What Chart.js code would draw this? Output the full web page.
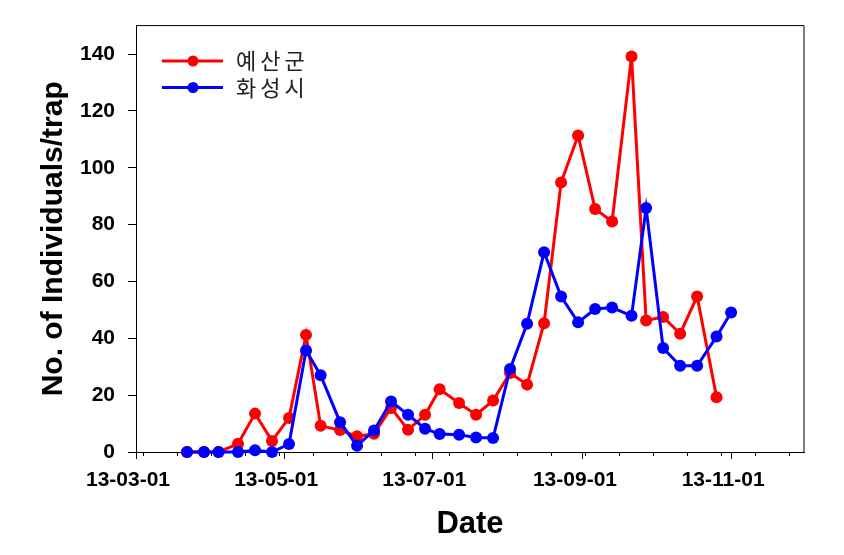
<!DOCTYPE html>
<html lang="ko">
<head>
  <meta charset="UTF-8">
  <title>No. of Individuals/trap</title>
  <script src="https://cdn.jsdelivr.net/npm/chart.js"></script>
  <style>
    body {
      background-color: #fff;
      margin: 0;
      padding: 0;
    }
    canvas {
      display: block;
    }
  </style>
</head>
<body>
  <canvas id="trapChart" width="844" height="555"></canvas>

  <script>
    // survey dates (weekly traps)
    const sampleDates = [
      '2013-03-22', '2013-03-29', '2013-04-04', '2013-04-12', '2013-04-19', '2013-04-26',
      '2013-05-03', '2013-05-10', '2013-05-16', '2013-05-24', '2013-05-31', '2013-06-07',
      '2013-06-14', '2013-06-21', '2013-06-28', '2013-07-04', '2013-07-12', '2013-07-19',
      '2013-07-26', '2013-08-02', '2013-08-09', '2013-08-16', '2013-08-23', '2013-08-30',
      '2013-09-06', '2013-09-13', '2013-09-21', '2013-09-27', '2013-10-04', '2013-10-11',
      '2013-10-18', '2013-10-26', '2013-11-01'
    ];

    // 예산군
    const yesanValues = [
      0, 0, 0, 2.9, 13.5, 3.9, 12, 41.2, 9.2, 7.7, 5.5, 6.4,
      15.5, 7.8, 13.1, 22.1, 17.2, 13.1, 18.1, 27.8, 23.7, 45.3, 94.8, 111.3,
      85.5, 81.1, 139.1, 46.3, 47.5, 41.6, 54.7, 19.3, null
    ];

    // 화성시
    const hwaseongValues = [
      0, 0, 0, 0, 0.6, 0, 2.8, 35.7, 27, 10.5, 2.2, 7.6,
      17.8, 13.1, 8.2, 6.3, 6.1, 5.1, 4.9, 29.2, 45.1, 70.3, 54.7, 45.6,
      50.3, 50.8, 47.9, 85.8, 36.6, 30.3, 30.3, 40.6, 49.1
    ];

    const xTickDates = ['2013-03-01', '2013-05-01', '2013-07-01', '2013-09-01', '2013-11-01'];
    const xTickLabels = ['13-03-01', '13-05-01', '13-07-01', '13-09-01', '13-11-01'];
    const xMinorDates = [
      '2013-03-04', '2013-03-18', '2013-04-01', '2013-04-15', '2013-04-29', '2013-05-13',
      '2013-05-27', '2013-06-10', '2013-06-24', '2013-07-08', '2013-07-22', '2013-08-05',
      '2013-08-19', '2013-09-02', '2013-09-16', '2013-09-30', '2013-10-14', '2013-10-28',
      '2013-11-11', '2013-11-25'
    ];
    const yTicks = [0, 20, 40, 60, 80, 100, 120, 140];

    // days since 2013-03-01
    const origin = Date.UTC(2013, 2, 1);
    function dayOf(s) {
      const [y, m, d] = s.split('-').map(Number);
      return (Date.UTC(y, m - 1, d) - origin) / 86400000;
    }
    const toPoints = vals => sampleDates.map((d, i) => ({ x: dayOf(d), y: vals[i] }));

    const seriesStyle = color => ({
      borderColor: color,
      backgroundColor: color,
      borderWidth: 3,
      pointRadius: 6,
      pointHoverRadius: 6,
      pointBorderWidth: 0,
      tension: 0,
      clip: false
    });

    // frame, minor ticks and the legend inside the plot
    const extras = {
      id: 'extras',
      afterDraw(chart) {
        const { ctx, chartArea: a, scales } = chart;
        ctx.save();
        ctx.strokeStyle = '#000';
        ctx.lineWidth = 1;
        ctx.beginPath();
        ctx.moveTo(a.left, a.top);
        ctx.lineTo(a.right, a.top);
        ctx.lineTo(a.right, a.bottom);
        xMinorDates.forEach(d => {
          const px = Math.round(scales.x.getPixelForValue(dayOf(d))) + 0.5;
          ctx.moveTo(px, a.bottom);
          ctx.lineTo(px, a.bottom + 4);
        });
        ctx.stroke();

        chart.data.datasets.forEach((ds, i) => {
          const y = 61 + i * 26.5;
          ctx.strokeStyle = ds.borderColor;
          ctx.fillStyle = ds.borderColor;
          ctx.lineWidth = 3;
          ctx.beginPath();
          ctx.moveTo(162, y);
          ctx.lineTo(223, y);
          ctx.stroke();
          ctx.beginPath();
          ctx.arc(193, y, 5.5, 0, Math.PI * 2);
          ctx.fill();
          ctx.fillStyle = '#222';
          ctx.font = '22px "Noto Sans CJK KR"';
          ctx.letterSpacing = '4px';
          ctx.textBaseline = 'middle';
          ctx.fillText(ds.label, 236, y);
        });
        ctx.restore();
      }
    };

    new Chart(document.getElementById('trapChart').getContext('2d'), {
      type: 'line',
      data: {
        datasets: [
          { label: '예산군', data: toPoints(yesanValues), order: 1, ...seriesStyle('#ff0000') },
          { label: '화성시', data: toPoints(hwaseongValues), order: 0, ...seriesStyle('#0000ff') }
        ]
      },
      options: {
        responsive: false,
        animation: false,
        events: [],
        layout: { padding: { top: 24, right: 40, left: 0, bottom: 0 } },
        plugins: {
          legend: { display: false },
          tooltip: { enabled: false }
        },
        scales: {
          x: {
            type: 'linear',
            min: 0,
            max: 275,
            afterBuildTicks: s => { s.ticks = xTickDates.map(d => ({ value: dayOf(d) })); },
            afterFit: s => { s.height = 103; },
            ticks: {
              callback: (v, i) => xTickLabels[i],
              autoSkip: false,
              maxRotation: 0,
              color: '#000',
              padding: 9,
              labelOffset: -8,
              font: { family: '"Liberation Sans", Arial, sans-serif', size: 21, weight: 'bold' }
            },
            grid: { drawOnChartArea: false, tickLength: 7, tickColor: '#000' },
            border: { color: '#000', width: 1 },
            title: {
              display: true,
              text: 'Date',
              color: '#000',
              padding: { top: 0, bottom: 12 },
              font: { family: '"Liberation Sans", Arial, sans-serif', size: 31, weight: 'bold' }
            }
          },
          y: {
            min: 0,
            max: 150,
            afterBuildTicks: s => { s.ticks = yTicks.map(v => ({ value: v })); },
            afterFit: s => { s.width = 136; },
            ticks: {
              color: '#000',
              padding: 13,
              font: { family: '"Liberation Sans", Arial, sans-serif', size: 21, weight: 'bold' }
            },
            grid: { drawOnChartArea: false, tickLength: 8, tickColor: '#000' },
            border: { color: '#000', width: 1 },
            title: {
              display: true,
              text: 'No. of Individuals/trap',
              color: '#000',
              padding: { top: 36, bottom: 0 },
              font: { family: '"Liberation Sans", Arial, sans-serif', size: 30, weight: 'bold' }
            }
          }
        }
      },
      plugins: [extras]
    });
  </script>
</body>
</html>
